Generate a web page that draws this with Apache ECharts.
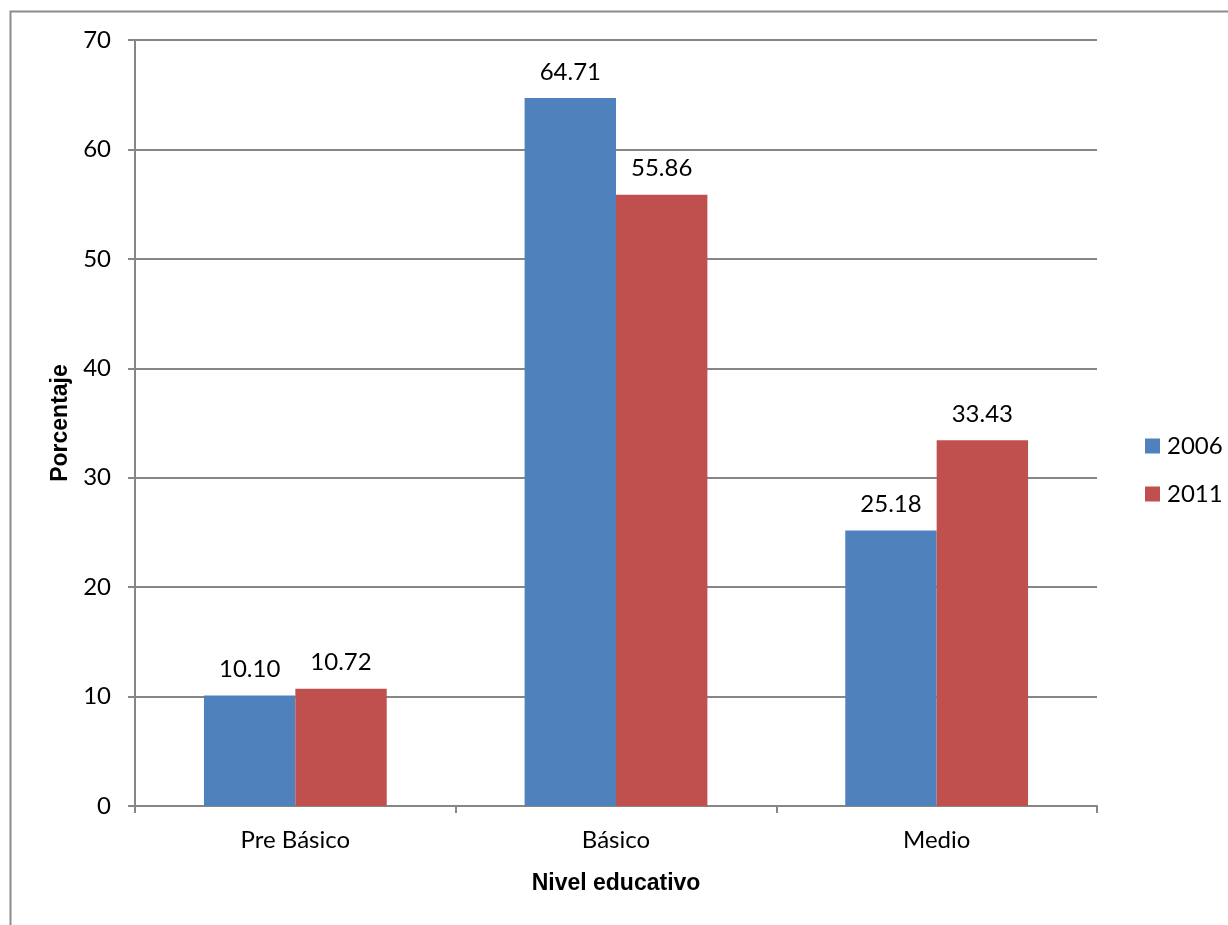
<!DOCTYPE html>
<html>
<head>
<meta charset="utf-8">
<script src="https://cdn.jsdelivr.net/npm/echarts@6/dist/echarts.min.js"></script>
<style>
  html, body { margin: 0; padding: 0; background: #fff; }
  #chart { width: 1228px; height: 925px; }
</style>
</head>
<body>
<div id="chart"></div>
<script>
// niveles educativos y porcentajes por año
const categories = ['Pre Básico', 'Básico', 'Medio'];
const years = ['2006', '2011'];
const values2006 = [10.10, 64.71, 25.18];
const values2011 = [10.72, 55.86, 33.43];
const colorArr = ['#4f81bd', '#c0504d'];

const baseFont = 'Lato';
const titleFont = '"Liberation Sans", sans-serif';

let myChart = echarts.init(document.getElementById('chart'));

const labelStyle = {
  show: true,
  position: 'top',
  distance: 14,
  color: '#000',
  fontFamily: baseFont,
  fontSize: 24,
  formatter: (p) => p.value.toFixed(2)
};

let option = {
  animation: false,
  graphic: [
    {
      type: 'polyline',
      shape: { points: [[10.5, 935], [10.5, 11.5], [1240, 11.5]] },
      style: { stroke: '#8c8c8c', lineWidth: 2, fill: null },
      silent: true
    }
  ],
  grid: {
    left: 135,
    right: 131,
    top: 40,
    bottom: 119
  },
  legend: {
    data: years,
    orient: 'vertical',
    left: 1140,
    top: 429,
    itemWidth: 15,
    itemHeight: 15,
    itemGap: 24,
    itemStyle: { borderWidth: 0 },
    icon: 'rect',
    textStyle: {
      color: '#000',
      fontFamily: baseFont,
      fontSize: 24,
      padding: [0, 0, 0, 2]
    }
  },
  xAxis: {
    type: 'category',
    data: categories,
    name: 'Nivel educativo',
    nameLocation: 'middle',
    nameGap: 66,
    nameTextStyle: {
      color: '#000',
      fontFamily: titleFont,
      fontWeight: 'bold',
      fontSize: 23
    },
    axisLine: { lineStyle: { color: '#868686', width: 2 } },
    axisTick: { show: true, length: 7, lineStyle: { color: '#868686', width: 2 } },
    axisLabel: {
      color: '#000',
      fontFamily: baseFont,
      fontSize: 24,
      margin: 22
    }
  },
  yAxis: {
    type: 'value',
    min: 0,
    max: 70,
    interval: 10,
    name: 'Porcentaje',
    nameLocation: 'middle',
    nameGap: 61,
    nameTextStyle: {
      color: '#000',
      fontFamily: titleFont,
      fontWeight: 'bold',
      fontSize: 23
    },
    axisLine: { show: true, lineStyle: { color: '#868686', width: 2 } },
    axisTick: { show: true, length: 7, lineStyle: { color: '#868686', width: 2 } },
    axisLabel: {
      color: '#000',
      fontFamily: baseFont,
      fontSize: 24,
      margin: 24
    },
    splitLine: { lineStyle: { color: '#868686', width: 2 } }
  },
  series: [
    {
      name: years[0],
      type: 'bar',
      data: values2006,
      barGap: '0%',
      barCategoryGap: '43%',
      itemStyle: { color: colorArr[0] },
      label: labelStyle
    },
    {
      name: years[1],
      type: 'bar',
      data: values2011,
      itemStyle: { color: colorArr[1] },
      label: labelStyle
    }
  ]
};

myChart.setOption(option);
</script>
</body>
</html>
